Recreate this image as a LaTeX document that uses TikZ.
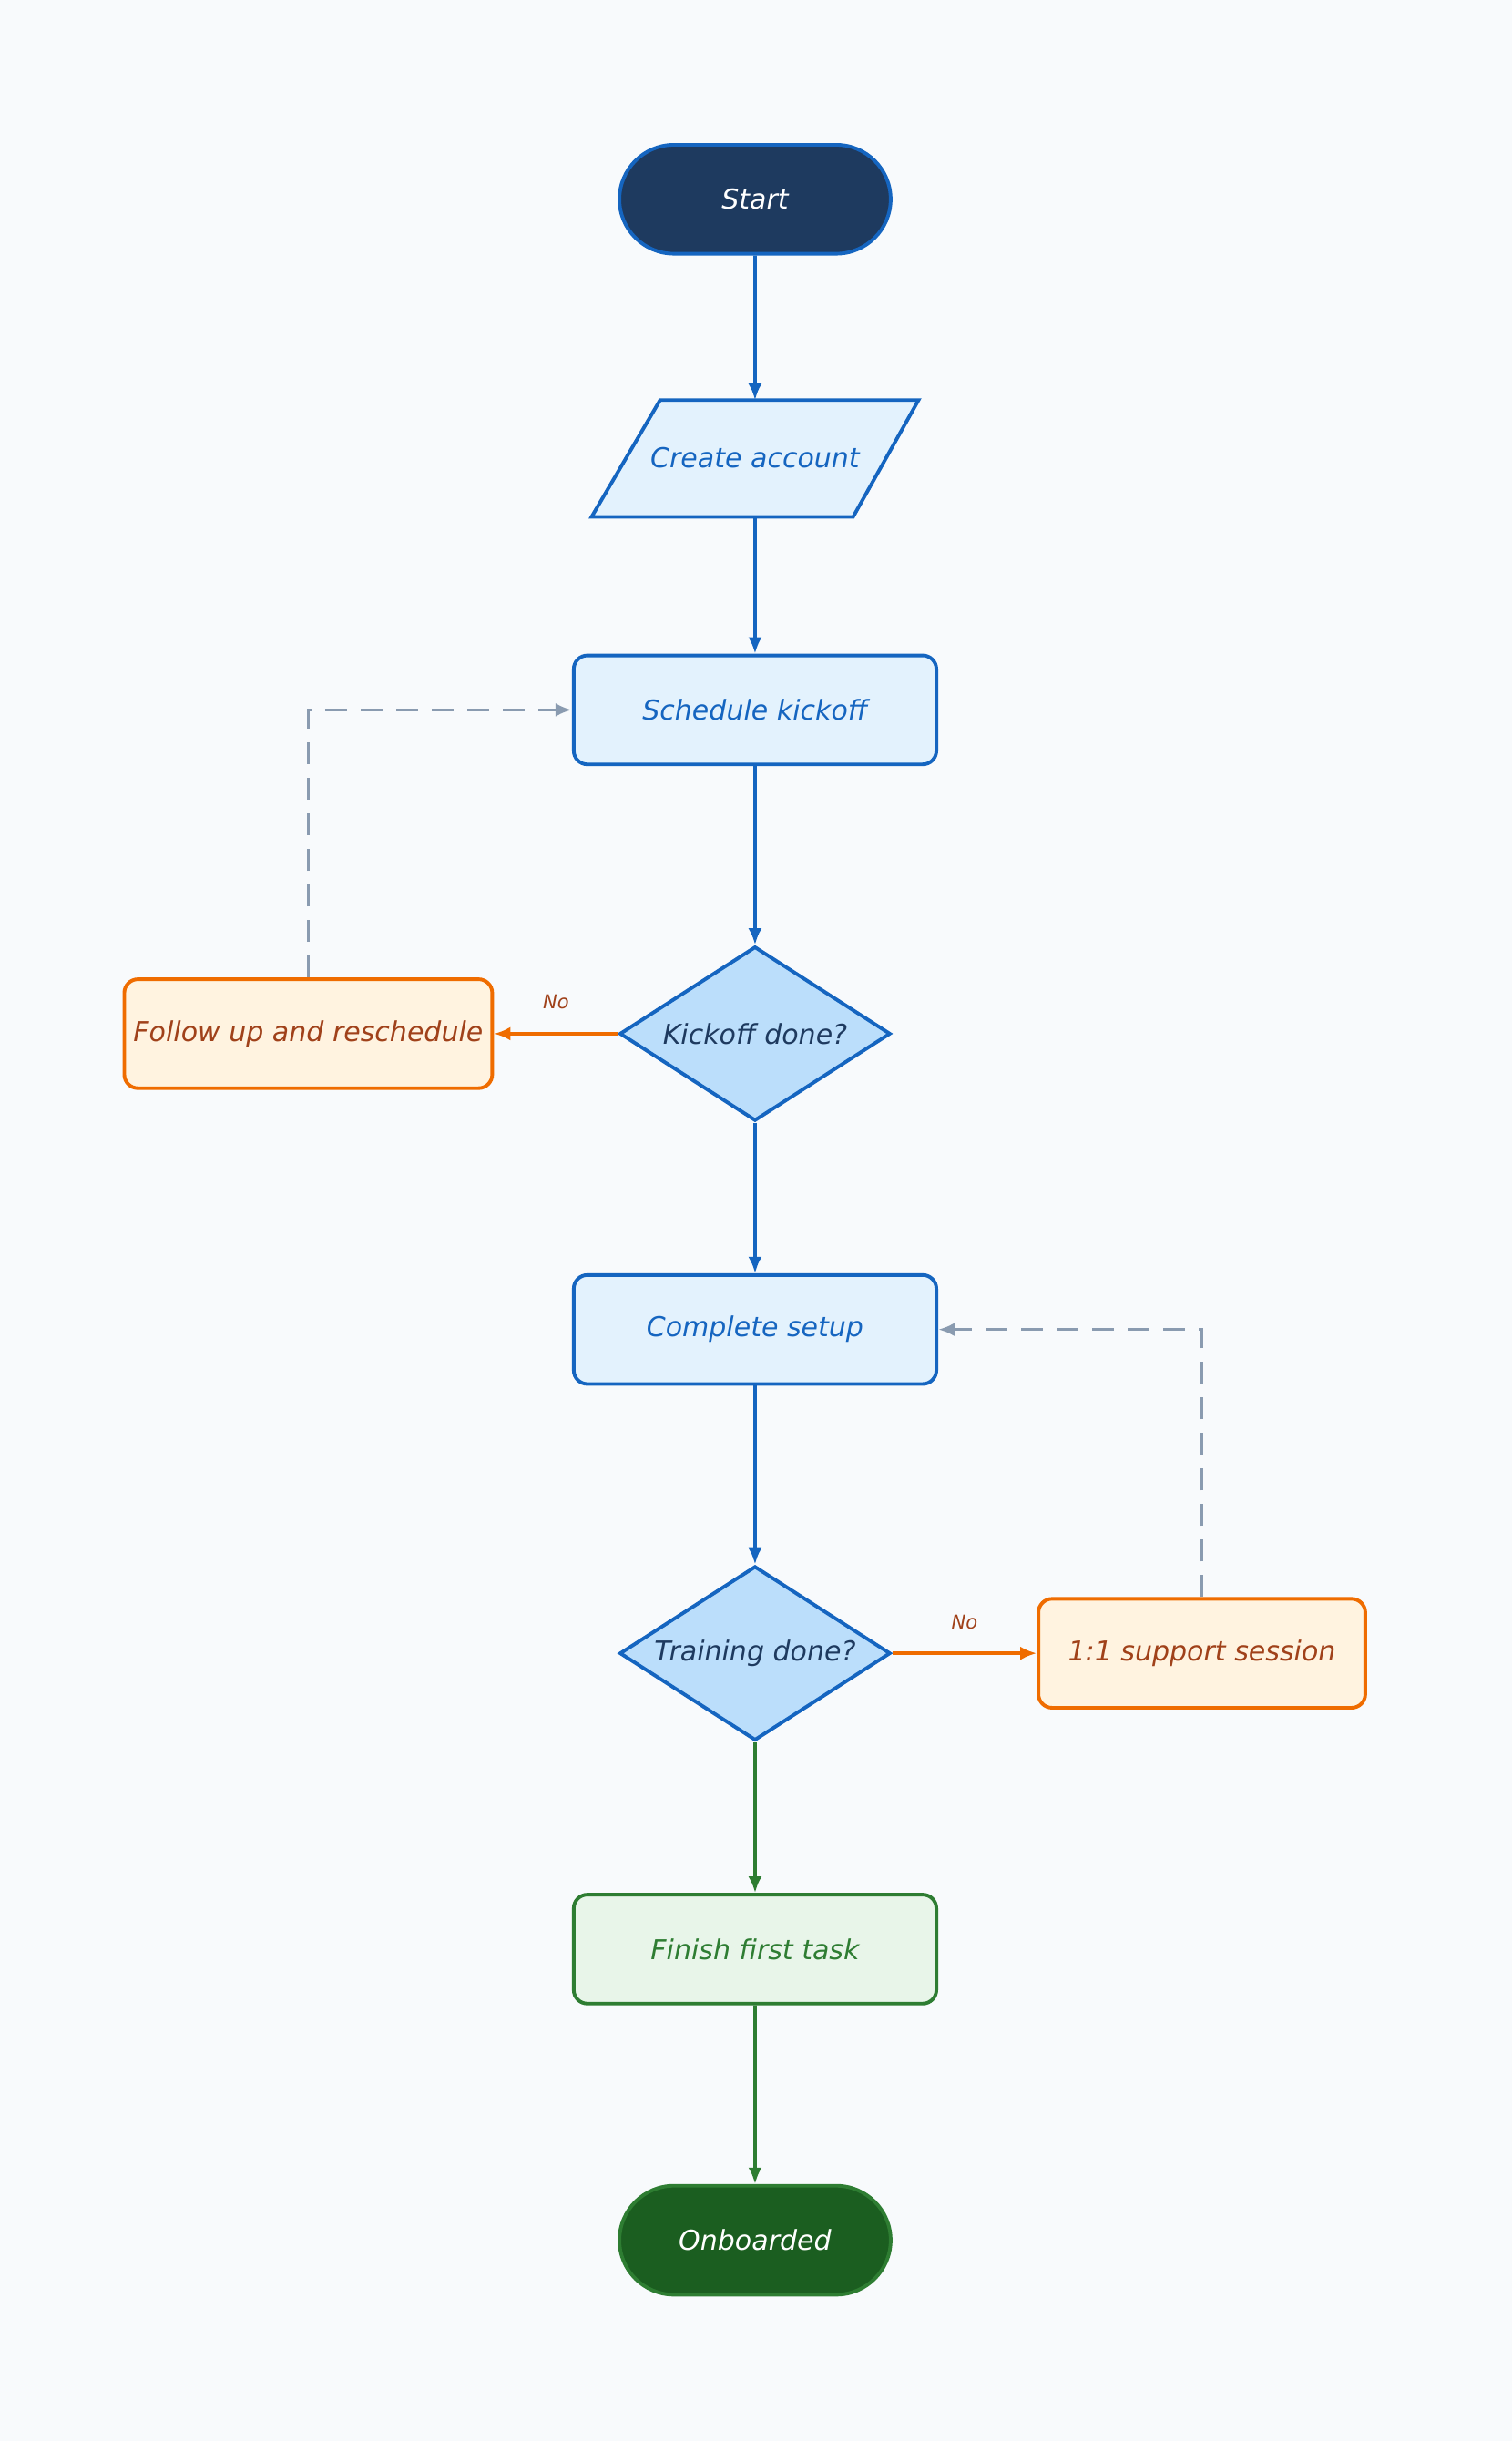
\documentclass[tikz,border=0pt]{standalone}
\usepackage{fontspec}
\setmainfont{DejaVu Sans}
\usetikzlibrary{shapes.geometric,arrows.meta}
\definecolor{bg}{HTML}{F8FAFC}
\definecolor{navy}{HTML}{1E3A5F}
\definecolor{blu}{HTML}{1565C0}
\definecolor{lblu}{HTML}{E3F2FD}
\definecolor{dblu}{HTML}{BBDEFB}
\definecolor{org}{HTML}{EF6C00}
\definecolor{lorg}{HTML}{FFF3E0}
\definecolor{brn}{HTML}{A0411A}
\definecolor{grn}{HTML}{2E7D32}
\definecolor{lgrn}{HTML}{E8F5E9}
\definecolor{dgrn}{HTML}{1B5E20}
\definecolor{gry}{HTML}{8A9BB0}
\begin{document}
\begin{tikzpicture}[x=0.02cm,y=-0.02cm,
  every node/.style={font=\fontsize{10}{12}\selectfont\itshape},
  term/.style={rounded rectangle,draw=#1,line width=1.3pt,minimum width=3.72cm,minimum height=1.4cm,text=white},
  box/.style={rectangle,rounded corners=5pt,line width=1.3pt,minimum width=4.66cm,minimum height=1.4cm},
  bbox/.style={box,draw=blu,fill=lblu,text=blu},
  obox/.style={box,draw=org,fill=lorg,text=brn,minimum width=4.2cm},
  gbox/.style={box,draw=grn,fill=lgrn,text=grn},
  dec/.style={diamond,aspect=1.55,draw=blu,fill=dblu,line width=1.3pt,text=navy,minimum width=3.48cm,minimum height=2.24cm,inner sep=0pt},
  arr/.style={-{Latex[length=6pt,width=5pt]},line width=1.2pt,draw=#1},
  dsh/.style={arr=gry,dashed,dash pattern=on 8pt off 5pt},
  lab/.style={font=\fontsize{7}{8}\selectfont\itshape,text=brn}]
\usetikzlibrary{shapes.misc}
\fill[bg] (0,0) rectangle (971,1568);
\node[term=blu,fill=navy] (start) at (485,128) {Start};
\draw[blu,line width=1.3pt,fill=lblu] (424,257)--(590,257)--(548,332)--(380,332)--cycle;
\node[text=blu] (create) at (485,294) {Create account};
\coordinate (ctop) at (485,257); \coordinate (cbot) at (485,332);
\node[bbox] (sched) at (485,456) {Schedule kickoff};
\node[dec] (kick) at (485,664) {Kickoff done?};
\node[obox] (follow) at (198,664) {Follow up and reschedule};
\node[bbox] (setup) at (485,854) {Complete setup};
\node[dec] (train) at (485,1062) {Training done?};
\node[obox] (support) at (772,1062) {1:1 support session};
\node[gbox] (finish) at (485,1252) {Finish first task};
\node[term=grn,fill=dgrn] (onb) at (485,1439) {Onboarded};
\draw[arr=blu] (start)--(ctop);
\draw[arr=blu] (cbot)--(sched);
\draw[arr=blu] (sched)--(kick);
\draw[arr=blu] (kick)--(setup);
\draw[arr=blu] (setup)--(train);
\draw[arr=grn] (train)--(finish);
\draw[arr=grn] (finish)--(onb);
\draw[arr=org] (kick)--(follow) node[lab,midway,above=5pt] {No};
\draw[arr=org] (train)--(support) node[lab,midway,above=5pt] {No};
\draw[dsh] (follow.north) |- (sched.west);
\draw[dsh] (support.north) |- (setup.east);
\end{tikzpicture}
\end{document}
